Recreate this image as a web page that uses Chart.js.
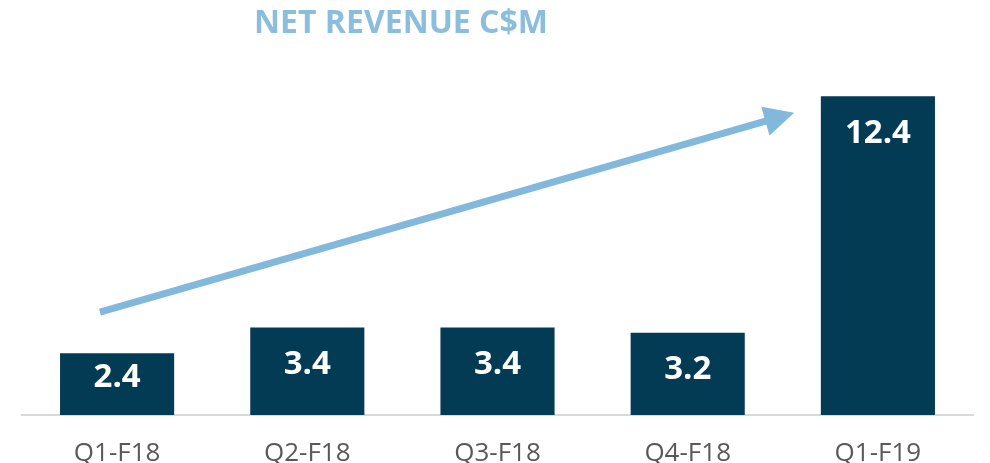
<!DOCTYPE html>
<html>
<head>
<meta charset="utf-8">
<script src="https://cdn.jsdelivr.net/npm/chart.js@4"></script>
<style>
  html, body { margin: 0; padding: 0; background: #fff; }
  #wrap { width: 990px; height: 463px; position: relative; }
</style>
</head>
<body>
<div id="wrap"><canvas id="chart"></canvas></div>
<script>
// net revenue by quarter
var quarters = ['Q1-F18', 'Q2-F18', 'Q3-F18', 'Q4-F18', 'Q1-F19'];
var revenue = [2.4, 3.4, 3.4, 3.2, 12.4];
var titleText = 'NET REVENUE C$M';
// trend arrow, in data units: [category index, value]
var arrowFrom = [-0.09, 4.0];
var arrowTo = [3.56, 11.75];

const BAR = '#033a54';
const ARROW = '#82b8db';

// title + value labels + arrow
const decor = {
  id: 'decor',
  afterDatasetsDraw(chart){
    const ctx = chart.ctx;
    const xs = chart.scales.x, ys = chart.scales.y;
    ctx.save();
    // title
    ctx.fillStyle = '#8bbddd';
    ctx.font = 'bold 32px "Open Sans"';
    ctx.textAlign = 'center';
    ctx.textBaseline = 'middle';
    ctx.fillText(titleText, 401, 24);

    // values inside bars
    const meta = chart.getDatasetMeta(0);
    ctx.fillStyle = '#ffffff';
    ctx.font = 'bold 33px "Open Sans"';
    meta.data.forEach((bar, i)=>{
      const y = Math.min(bar.y + 37, bar.base - 37);
      ctx.fillText(revenue[i].toFixed(1), bar.x, y);
    });

    // arrow
    const step = xs.getPixelForValue(1) - xs.getPixelForValue(0);
    const x1 = xs.getPixelForValue(0) + arrowFrom[0]*step, y1 = ys.getPixelForValue(arrowFrom[1]);
    const x2 = xs.getPixelForValue(0) + arrowTo[0]*step, y2 = ys.getPixelForValue(arrowTo[1]);
    const ang = Math.atan2(y2 - y1, x2 - x1);
    const headLen = 30, headW = 15;
    const bx = x2 - headLen*Math.cos(ang), by = y2 - headLen*Math.sin(ang);
    ctx.strokeStyle = ARROW;
    ctx.lineWidth = 7;
    ctx.beginPath();
    ctx.moveTo(x1, y1);
    ctx.lineTo(bx + 2*Math.cos(ang), by + 2*Math.sin(ang));
    ctx.stroke();
    ctx.fillStyle = ARROW;
    ctx.beginPath();
    ctx.moveTo(x2, y2);
    ctx.lineTo(bx - headW*Math.sin(ang), by + headW*Math.cos(ang));
    ctx.lineTo(bx + headW*Math.sin(ang), by - headW*Math.cos(ang));
    ctx.closePath();
    ctx.fill();
    ctx.restore();
  }
};

new Chart(document.getElementById('chart'), {
  type: 'bar',
  data: {
    labels: quarters,
    datasets: [{
      data: revenue,
      backgroundColor: BAR,
      categoryPercentage: 1.0,
      barPercentage: 0.6
    }]
  },
  options: {
    responsive: true,
    maintainAspectRatio: false,
    animation: false,
    layout: { padding: { top: 55, left: 22, right: 17, bottom: -30 } },
    plugins: {
      legend: { display: false },
      tooltip: { enabled: false }
    },
    scales: {
      x: {
        grid: { display: false, drawTicks: false },
        border: { display: true, color: '#d9d9d9', width: 2 },
        ticks: {
          color: '#595959',
          font: { family: 'Open Sans', size: 26, lineHeight: 1 },
          padding: 26
        }
      },
      y: {
        display: false,
        min: 0,
        max: 14
      }
    }
  },
  plugins: [decor]
});
</script>
</body>
</html>
